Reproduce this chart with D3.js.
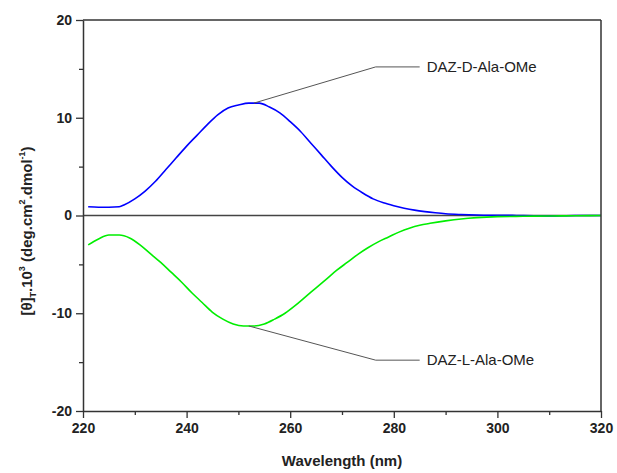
<!DOCTYPE html>
<html>
<head>
<meta charset="utf-8">
<script src="https://cdn.jsdelivr.net/npm/d3@7"></script>
<style>
  body { margin: 0; background: #fff; }
  text { font-family: "Liberation Sans", Arial, sans-serif; }
</style>
</head>
<body>
<div id="chart"></div>
<script>
// wavelength (nm) and ellipticity values
var wavelengthD = [221, 223, 225, 227, 228, 230, 232, 234, 236, 238, 240, 242, 244, 246, 248, 250, 252, 254, 256, 258, 260, 262, 264, 266, 268, 270, 272, 274, 276, 278, 280, 282, 284, 286, 288, 290, 293, 296, 300, 305, 310, 315, 320];
var thetaD = [0.9, 0.85, 0.85, 0.9, 1.1, 1.7, 2.5, 3.5, 4.7, 5.9, 7.1, 8.2, 9.3, 10.3, 11.0, 11.3, 11.5, 11.5, 11.1, 10.5, 9.6, 8.6, 7.4, 6.2, 5.0, 3.9, 3.0, 2.3, 1.7, 1.3, 1.0, 0.75, 0.55, 0.4, 0.28, 0.18, 0.1, 0.05, 0.02, 0, -0.05, 0, 0];

var wavelengthL = [221, 223, 225, 227, 229, 231, 233, 235, 237, 239, 241, 243, 245, 247, 249, 251, 253, 255, 257, 259, 261, 263, 265, 267, 269, 271, 273, 275, 277, 279, 281, 283, 285, 287, 290, 293, 296, 300, 305, 310, 315, 320];
var thetaL = [-3.0, -2.4, -2.0, -2.0, -2.3, -3.0, -3.9, -4.8, -5.8, -6.8, -7.9, -8.9, -9.9, -10.6, -11.1, -11.3, -11.3, -11.1, -10.6, -10.0, -9.2, -8.3, -7.4, -6.5, -5.6, -4.8, -4.0, -3.3, -2.7, -2.2, -1.7, -1.3, -1.0, -0.8, -0.55, -0.35, -0.22, -0.12, -0.08, -0.05, -0.03, 0];

var xTicks = [220, 240, 260, 280, 300, 320];
var yTicks = [-20, -10, 0, 10, 20];
var seriesNames = ["DAZ-D-Ala-OMe", "DAZ-L-Ala-OMe"];
var seriesColors = ["#0000ff", "#00ee00"];
// point on each curve where the label leader starts, and the leader elbow
var labelAnchor = [[253, 11.5], [252, -11.3]];
var labelElbow = [[276.5, 15.2], [276.5, -14.8]];

var W = 617, H = 473;
var margin = {left: 83, top: 20, right: 16, bottom: 62};
var w = W - margin.left - margin.right;
var h = H - margin.top - margin.bottom;
var fontFam = "'Liberation Sans', Arial, sans-serif";

var svg = d3.select("#chart").append("svg")
    .attr("width", W)
    .attr("height", H);

var g = svg.append("g")
    .attr("transform", "translate(" + margin.left + "," + margin.top + ")");

var x = d3.scaleLinear().domain([220, 320]).range([0, w]);
var y = d3.scaleLinear().domain([-20, 20]).range([h, 0]);

// zero line
g.append("line")
    .attr("x1", 0).attr("x2", w)
    .attr("y1", y(0)).attr("y2", y(0))
    .attr("stroke", "#444")
    .attr("stroke-width", 1.5);

// curves
var line = d3.line()
    .x(function (d) { return x(d[0]); })
    .y(function (d) { return y(d[1]); })
    .curve(d3.curveMonotoneX);

var series = [d3.zip(wavelengthD, thetaD), d3.zip(wavelengthL, thetaL)];
series.forEach(function (s, i) {
    g.append("path")
        .datum(s)
        .attr("d", line)
        .attr("fill", "none")
        .attr("stroke", seriesColors[i])
        .attr("stroke-width", 1.6);
});

// frame top/right
g.append("line").attr("x1", 0).attr("x2", w).attr("y1", 0).attr("y2", 0)
    .attr("stroke", "#333").attr("stroke-width", 1.5);
g.append("line").attr("x1", w).attr("x2", w).attr("y1", 0).attr("y2", h)
    .attr("stroke", "#333").attr("stroke-width", 1.5);

// minor ticks
var xMinor = g.append("g")
    .attr("transform", "translate(0," + h + ")")
    .call(d3.axisBottom(x).tickValues(d3.range(230, 320, 20)).tickSize(4).tickFormat(""));
var yMinor = g.append("g")
    .call(d3.axisLeft(y).tickValues([-15, -5, 5, 15]).tickSize(4).tickFormat(""));

// major axes (plain hyphen minus like the original)
var fmt = function (d) { return String(d); };
var xAxis = g.append("g")
    .attr("transform", "translate(0," + h + ")")
    .call(d3.axisBottom(x).tickValues(xTicks).tickSize(7).tickPadding(5).tickSizeOuter(0).tickFormat(fmt));
var yAxis = g.append("g")
    .call(d3.axisLeft(y).tickValues(yTicks).tickSize(7).tickPadding(4).tickSizeOuter(0).tickFormat(fmt));

[xMinor, yMinor, xAxis, yAxis].forEach(function (a) {
    a.selectAll("path").attr("stroke", "#333").attr("stroke-width", 1.5);
    a.selectAll("line").attr("stroke", "#333").attr("stroke-width", 1.3);
    a.selectAll("text")
        .attr("font-family", fontFam)
        .attr("font-size", "14px")
        .attr("font-weight", "bold")
        .attr("fill", "#222");
});
xMinor.select(".domain").remove();
yMinor.select(".domain").remove();

// labels with leader lines
seriesNames.forEach(function (name, i) {
    var a = labelAnchor[i], e = labelElbow[i];
    g.append("polyline")
        .attr("points", [
            [x(a[0]), y(a[1])],
            [x(e[0]), y(e[1])],
            [x(e[0]) + 44, y(e[1])]
        ].join(" "))
        .attr("fill", "none")
        .attr("stroke", "#555")
        .attr("stroke-width", 1);
    g.append("text")
        .attr("x", x(e[0]) + 51)
        .attr("y", y(e[1]))
        .attr("dy", "0.35em")
        .attr("font-family", fontFam)
        .attr("font-size", "15px")
        .attr("fill", "#222")
        .text(name);
});

// axis titles
svg.append("text")
    .attr("x", margin.left + w / 2)
    .attr("y", 466)
    .attr("text-anchor", "middle")
    .attr("font-family", fontFam)
    .attr("font-size", "15px")
    .attr("font-weight", "bold")
    .attr("fill", "#222")
    .text("Wavelength (nm)");

var yt = svg.append("text")
    .attr("transform", "translate(32,231) rotate(-90)")
    .attr("text-anchor", "middle")
    .attr("font-family", fontFam)
    .attr("font-size", "15px")
    .attr("font-weight", "bold")
    .attr("fill", "#222");
yt.append("tspan").text("[θ]");
yt.append("tspan").attr("font-size", "9px").attr("dy", 4).text("T");
yt.append("tspan").attr("dy", -4).text(".10");
yt.append("tspan").attr("font-size", "9px").attr("dy", -7).text("3");
yt.append("tspan").attr("dy", 7).text(" (deg.cm");
yt.append("tspan").attr("font-size", "9px").attr("dy", -7).text("2");
yt.append("tspan").attr("dy", 7).text(".dmol");
yt.append("tspan").attr("font-size", "9px").attr("dy", -7).text("-1");
yt.append("tspan").attr("dy", 7).text(")");
</script>
</body>
</html>
